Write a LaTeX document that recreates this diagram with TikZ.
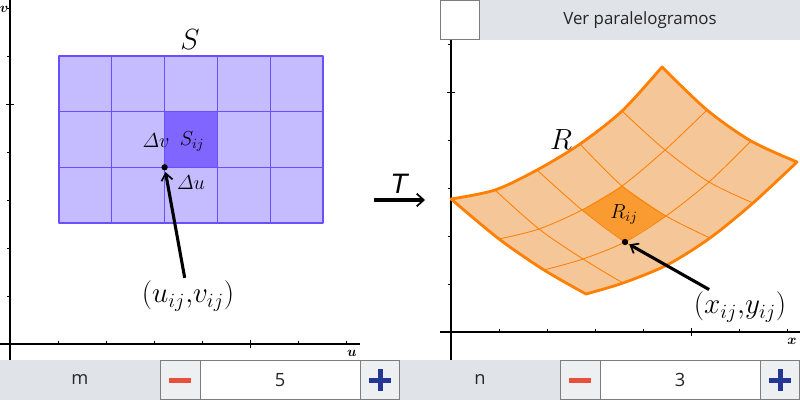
\documentclass[tikz,border=0pt]{standalone}
\usepackage{amsmath}
\usepackage{fontspec}
\newfontfamily\uifont{Open Sans}
\newfontfamily\mapfont{Liberation Sans}
\usetikzlibrary{arrows.meta}

\definecolor{cellfill}{RGB}{196,188,255}
\definecolor{cellline}{RGB}{104,80,255}
\definecolor{cellhl}{RGB}{128,102,255}
\definecolor{regfill}{RGB}{245,198,152}
\definecolor{regline}{RGB}{255,128,0}
\definecolor{reghl}{RGB}{250,155,50}
\definecolor{barbg}{RGB}{224,227,231}
\definecolor{btnbg}{RGB}{237,239,241}
\definecolor{btnline}{RGB}{125,125,125}
\definecolor{minusred}{RGB}{230,80,60}
\definecolor{plusblue}{RGB}{35,55,150}

\begin{document}
\begin{tikzpicture}[x=0.025cm,y=-0.025cm,
    axis/.style={line width=0.8pt},
    tick/.style={line width=0.6pt},
    cellgrid/.style={cellline,line width=0.7pt},
    cellborder/.style={cellline,line width=1.4pt,line join=round},
    reggrid/.style={regline,line width=0.6pt},
    regborder/.style={regline,line width=2pt,line join=round},
    bigmath/.style={inner sep=1pt,font=\fontsize{21}{24}\selectfont},
    midmath/.style={inner sep=1pt,font=\fontsize{19.5}{22}\selectfont},
    smallmath/.style={inner sep=1pt,font=\fontsize{14}{16}\selectfont},
    axlbl/.style={inner sep=0pt,font=\fontsize{10}{12}\selectfont},
    dot/.style={circle,fill=black,inner sep=0pt,minimum size=4.5pt},
    ptr/.style={line width=2.2pt,-{Straight Barb[length=5pt,width=8pt,line width=1.2pt]}},
    uilbl/.style={font=\uifont\fontsize{13}{15}\selectfont,text=black!85},
    btn/.style={fill=btnbg,draw=btnline,line width=0.6pt},
    field/.style={fill=white,draw=btnline,line width=0.6pt}]

\useasboundingbox (0,0) rectangle (800,400);

% ===== Panel S: ejes =====
\draw[axis] (0,344) -- (360,344);
\draw[axis] (10,0) -- (10,360);
\foreach \k in {1,...,7} {
    \draw[tick] (10+48*\k,340.5) -- (10+48*\k,344);
    \draw[tick] (6.5,344-48*\k) -- (10,344-48*\k);
}
\draw[tick] (250,340) -- (250,348);
\draw[tick] (6,104) -- (14,104);
\node[axlbl] (lu) at (352,353) {$\boldsymbol{u}$};
\node[axlbl] (lv) at (4,9) {$\boldsymbol{v}$};

% ===== Panel S: rectangulo =====
\fill[cellfill] (59,56) rectangle (323,223);
\fill[cellhl] (164.6,111.7) rectangle (217.4,167.3);
\foreach \i in {1,...,4}
    \draw[cellgrid] (59+52.8*\i,56) -- (59+52.8*\i,223);
\foreach \j in {1,2}
    \draw[cellgrid] (59,56+55.67*\j) -- (323,56+55.67*\j);
\draw[cellborder] (59,56) rectangle (323,223);

\node[bigmath] (S) at (190,40) {$S$};
\node[smallmath] (Sij) at (192,141) {$S_{ij}$};
\node[smallmath] (dv) at (156,141) {$\varDelta v$};
\node[smallmath] (du) at (191,183) {$\varDelta u$};
\node[dot] (p) at (164.6,167.3) {};
\node[midmath] (uv) at (188,296) {$(u_{ij}{,}v_{ij})$};
\draw[ptr,shorten <=1pt,shorten >=1pt] (uv) -- (p);

% ===== Flecha T =====
\node[inner sep=0pt,font=\mapfont\itshape\fontsize{20}{24}\selectfont] (T) at (399,184) {T};
\coordinate (ta) at (374,200);
\coordinate (tb) at (425,200);
\draw[line width=2.2pt,-{Straight Barb[length=5pt,width=9pt,line width=1.2pt]}] (ta) -- (tb);

% ===== Panel R: ejes =====
\draw[axis] (440,332) -- (800,332);
\draw[axis] (451,40) -- (451,360);
\foreach \k in {1,...,7}
    \draw[tick] (451+48*\k,328.5) -- (451+48*\k,332);
\foreach \k in {1,...,6}
    \draw[tick] (447.5,332-48*\k) -- (451,332-48*\k);
\draw[tick] (691,328) -- (691,336);
\draw[tick] (447,92) -- (455,92);
\node[axlbl] (lx) at (792,341) {$\boldsymbol{x}$};

% ===== Panel R: malla (a = u, b = v) =====
\foreach \a/\b/\px/\py in {
    0/0/586/294, 0/1/544/270, 0/2/499/239, 0/3/451/199,
    1/0/623/283, 1/1/583/259, 1/2/539/229, 1/3/495/190,
    2/0/667/265, 2/1/625/242, 2/2/582/210, 2/3/537/170,
    3/0/710/238, 3/1/666/216, 3/2/622/186, 3/3/580/144,
    4/0/753/203, 4/1/709/182, 4/2/665/150, 4/3/622/111,
    5/0/797/162, 5/1/751/141, 5/2/707/110, 5/3/662/67}
    \coordinate (g\a\b) at (\px,\py);

\fill[regfill] (g00)
    -- plot[smooth] coordinates {(g00) (g10) (g20) (g30) (g40) (g50)}
    -- plot[smooth] coordinates {(g50) (g51) (g52) (g53)}
    -- plot[smooth] coordinates {(g53) (g43) (g33) (g23) (g13) (g03)}
    -- plot[smooth] coordinates {(g03) (g02) (g01) (g00)} -- cycle;
\fill[reghl] (g21) -- (g31) -- (g32) -- (g22) -- cycle;

\foreach \a in {1,...,4}
    \draw[reggrid] plot[smooth] coordinates {(g\a0) (g\a1) (g\a2) (g\a3)};
\foreach \b in {1,2}
    \draw[reggrid] plot[smooth] coordinates {(g0\b) (g1\b) (g2\b) (g3\b) (g4\b) (g5\b)};

\draw[regborder] (g00)
    -- plot[smooth] coordinates {(g00) (g10) (g20) (g30) (g40) (g50)}
    -- plot[smooth] coordinates {(g50) (g51) (g52) (g53)}
    -- plot[smooth] coordinates {(g53) (g43) (g33) (g23) (g13) (g03)}
    -- plot[smooth] coordinates {(g03) (g02) (g01) (g00)} -- cycle;

\node[bigmath] (R) at (561,140) {$R$};
\node[smallmath] (Rij) at (624,214) {$R_{ij}$};
\node[dot] (q) at (g21) {};
\node[midmath] (xy) at (740,307) {$(x_{ij}{,}y_{ij})$};
\draw[ptr,shorten <=1pt,shorten >=1pt] (xy) -- (q);

% ===== Casilla superior =====
\fill[barbg] (480,0) rectangle (800,40);
\draw[field] (440.5,0.5) rectangle (479.5,39.5);
\node[uilbl,font=\uifont\fontsize{12}{14}\selectfont] (ver) at (640,20) {Ver paralelogramos};

% ===== Deslizadores m y n =====
\fill[barbg] (0,360) rectangle (800,400);
\foreach \o in {0,400} {
    \draw[btn] (160+\o,360.5) rectangle (200+\o,399.5);
    \draw[field] (200+\o,360.5) rectangle (360+\o,399.5);
    \draw[btn] (360+\o,360.5) rectangle (399.5+\o,399.5);
    \fill[minusred] (169+\o,377.5) rectangle (191+\o,382.5);
    \fill[plusblue] (369+\o,377.5) rectangle (391+\o,382.5);
    \fill[plusblue] (377.5+\o,369) rectangle (382.5+\o,391);
}
\node[uilbl] (m) at (80,380) {m};
\node[uilbl] (mval) at (280,380) {5};
\node[uilbl] (n) at (480,380) {n};
\node[uilbl] (nval) at (680,380) {3};

\end{tikzpicture}
\end{document}
